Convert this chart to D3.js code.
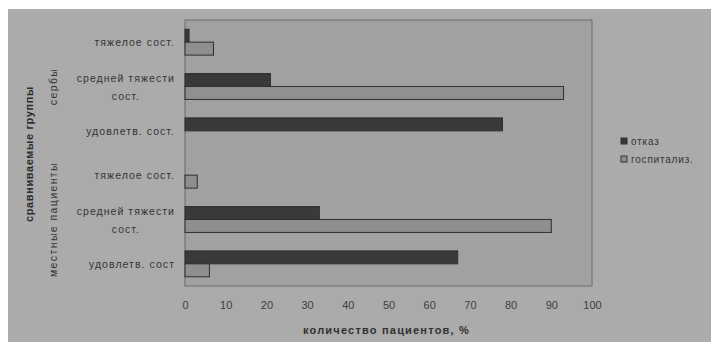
<!DOCTYPE html>
<html>
<head>
<meta charset="utf-8">
<script src="https://cdn.jsdelivr.net/npm/d3@7"></script>
<style>
  html, body { margin: 0; padding: 0; background: #fff; }
  svg { display: block; }
  text { font-family: "Liberation Sans", Arial, sans-serif; }
</style>
</head>
<body>
<svg id="chart" width="711" height="342"></svg>
<script>
// Categories, top to bottom; each label may wrap onto two lines
const categories = [
  ["тяжелое сост."],
  ["средней тяжести", "сост."],
  ["удовлетв. сост."],
  ["тяжелое сост."],
  ["средней тяжести", "сост."],
  ["удовлетв. сост"]
];
const groups = ["сербы", "местные пациенты"];
const groupSpans = [[0, 2], [3, 5]];

const seriesNames = ["отказ", "госпитализ."];
const refusal = [1, 21, 78, 0, 33, 67];
const hospital = [7, 93, 0, 3, 90, 6];

const xTicks = [0, 10, 20, 30, 40, 50, 60, 70, 80, 90, 100];
const xTitle = "количество пациентов, %";
const yTitle = "сравниваемые группы";

const colors = ["#393939", "#8f8f8f"];

const svg = d3.select("#chart");

// chart area
svg.append("rect")
  .attr("x", 8).attr("y", 9).attr("width", 703).attr("height", 333)
  .attr("fill", "#ababab");

const plot = { left: 185, right: 592, top: 20, bottom: 286 };

svg.append("rect")
  .attr("x", plot.left).attr("y", plot.top)
  .attr("width", plot.right - plot.left).attr("height", plot.bottom - plot.top)
  .attr("fill", "#a1a1a1")
  .attr("stroke", "#6a6a6a").attr("stroke-width", 1);

const x = d3.scaleLinear().domain([0, 100]).range([plot.left, plot.right]);
const y = d3.scaleBand()
  .domain(d3.range(categories.length))
  .range([plot.top, plot.bottom])
  .paddingInner(0.416).paddingOuter(0.208);
const sub = d3.scaleBand().domain([0, 1]).range([0, y.bandwidth()]);

const series = [refusal, hospital];
series.forEach((vals, s) => {
  svg.append("g").selectAll("rect")
    .data(vals)
    .join("rect")
    .attr("x", x(0))
    .attr("y", (d, i) => y(i) + sub(s))
    .attr("width", d => x(d) - x(0))
    .attr("height", sub.bandwidth())
    .attr("fill", colors[s])
    .attr("stroke", "#2e2e2e")
    .attr("stroke-width", 1);
});

// x axis: labels only
const xAxis = svg.append("g")
  .attr("transform", `translate(0,${plot.bottom})`)
  .call(d3.axisBottom(x).tickValues(xTicks).tickSize(0).tickPadding(15));
xAxis.select(".domain").remove();
xAxis.selectAll("text")
  .attr("font-size", 11).attr("fill", "#3c3c3c")
  .style("font-family", "'Liberation Sans', Arial, sans-serif");

svg.append("text")
  .attr("x", (plot.left + plot.right) / 2 - 2).attr("y", 334)
  .attr("text-anchor", "middle")
  .attr("font-size", 11).attr("font-weight", "bold").attr("fill", "#303030")
  .attr("letter-spacing", 1.2)
  .text(xTitle);

// category labels, right edge of the widest line at x = 175
const labelRight = 175;
const labelSize = 10.5;
const labelSpacing = 1.05;
const catG = svg.append("g");
categories.forEach((lines, i) => {
  const cy = y(i) + y.bandwidth() / 2;
  if (lines.length === 1) {
    catG.append("text")
      .attr("x", labelRight).attr("y", cy + 4)
      .attr("text-anchor", "end")
      .attr("font-size", labelSize).attr("letter-spacing", labelSpacing)
      .attr("fill", "#333")
      .text(lines[0]);
  } else {
    const t = catG.append("text")
      .attr("text-anchor", "middle")
      .attr("font-size", labelSize).attr("letter-spacing", labelSpacing)
      .attr("fill", "#333");
    const spans = lines.map((ln, k) => t.append("tspan")
      .attr("y", cy - 4.5 + k * 17.5).text(ln));
    const w = d3.max(spans, sp => sp.node().getComputedTextLength());
    spans.forEach(sp => sp.attr("x", labelRight - w / 2));
  }
});

// group labels
groupSpans.forEach(([a, b], g) => {
  const cy = (y(a) + y(b) + y.bandwidth()) / 2;
  svg.append("text")
    .attr("transform", `translate(57,${cy}) rotate(-90)`)
    .attr("text-anchor", "middle")
    .attr("font-size", 10.5).attr("letter-spacing", 1.4).attr("fill", "#333")
    .text(groups[g]);
});

svg.append("text")
  .attr("transform", `translate(33,154) rotate(-90)`)
  .attr("text-anchor", "middle")
  .attr("font-size", 11).attr("font-weight", "bold").attr("letter-spacing", 0.6)
  .attr("fill", "#2a2a2a")
  .text(yTitle);

// legend
const legend = svg.append("g").attr("transform", "translate(621,138)");
seriesNames.forEach((name, s) => {
  const row = legend.append("g").attr("transform", `translate(0,${s * 18})`);
  row.append("rect")
    .attr("x", 0).attr("y", 0).attr("width", 6).attr("height", 6)
    .attr("fill", colors[s]).attr("stroke", "#2e2e2e").attr("stroke-width", 1);
  row.append("text")
    .attr("x", 10).attr("y", 7)
    .attr("font-size", 10).attr("letter-spacing", 0.8).attr("fill", "#333")
    .text(name);
});
</script>
</body>
</html>
